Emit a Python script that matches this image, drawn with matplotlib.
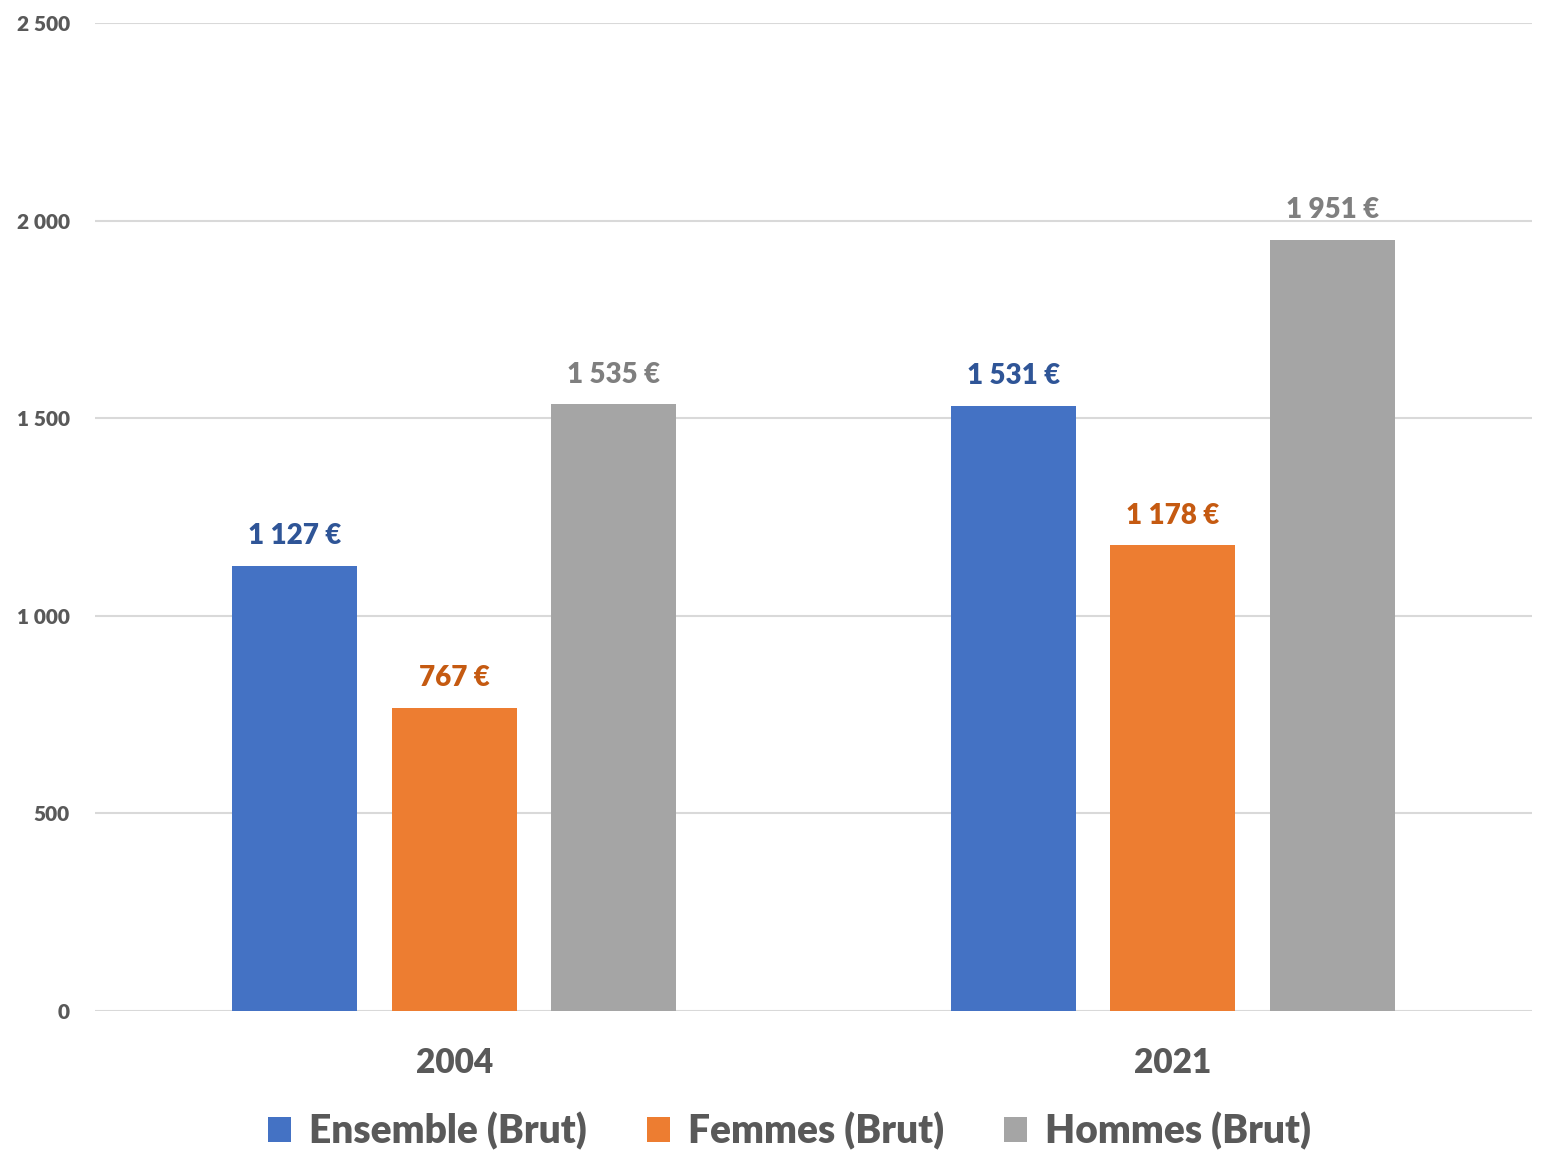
import matplotlib.pyplot as plt
import numpy as np

plt.rcParams['font.family'] = ['Lato', 'DejaVu Sans']

years = ['2004', '2021']
series = ['Ensemble (Brut)', 'Femmes (Brut)', 'Hommes (Brut)']
ensemble = [1127, 1531]
femmes = [767, 1178]
hommes = [1535, 1951]
labels = [['1 127 €', '1 531 €'], ['767 €', '1 178 €'], ['1 535 €', '1 951 €']]

colors = ['#4472C4', '#ED7D31', '#A5A5A5']
label_colors = ['#2F5597', '#C55A11', '#7F7F7F']

fig = plt.figure(figsize=(15.42, 11.52), dpi=100)
ax = fig.add_axes([0.0616, 0.1224, 0.932, 0.8576])

x = np.arange(len(years))
width = 0.174
step = 0.222
for i, vals in enumerate([ensemble, femmes, hommes]):
    pos = x + (i - 1) * step
    ax.bar(pos, vals, width=width, color=colors[i], label=series[i], zorder=3)
    for xp, v, t in zip(pos, vals, labels[i]):
        ax.text(xp, v + 42, t, ha='center', va='bottom', fontsize=20,
                fontweight='heavy', color=label_colors[i])

ax.set_xlim(-0.5, 1.5)
ax.set_ylim(0, 2500)
ax.set_yticks(range(0, 2501, 500))
ax.set_yticklabels(['0', '500', '1 000', '1 500', '2 000', '2 500'])
ax.set_xticks(x)
ax.set_xticklabels(years)
ax.grid(axis='y', color='#D9D9D9', linewidth=1.5, zorder=0)
for s in ax.spines.values():
    s.set_visible(False)
ax.tick_params(axis='y', length=0, pad=18, labelsize=15, labelcolor='#595959')
ax.tick_params(axis='x', length=0, pad=26, labelsize=24, labelcolor='#595959')
for t in ax.get_xticklabels() + ax.get_yticklabels():
    t.set_fontweight('heavy')

leg = fig.legend(loc='center', bbox_to_anchor=(0.512, 0.018), ncol=3, frameon=False,
                 fontsize=28, handlelength=0.6, handleheight=0.6,
                 handletextpad=0.45, columnspacing=1.55)
for t in leg.get_texts():
    t.set_color('#595959')
    t.set_fontweight('heavy')

fig.savefig('out.png')
